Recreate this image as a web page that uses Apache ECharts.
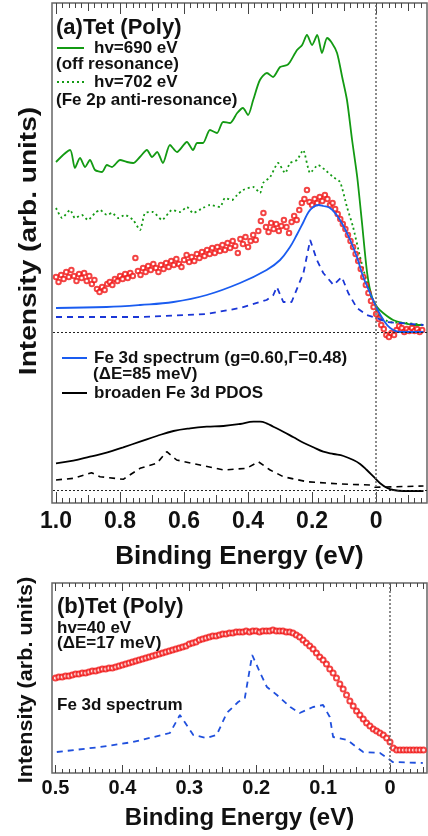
<!DOCTYPE html>
<html><head><meta charset="utf-8">
<script src="https://cdn.jsdelivr.net/npm/echarts@6/dist/echarts.min.js"></script>
<style>html,body{margin:0;padding:0;background:#fff}#c{width:428px;height:836px}</style>
</head><body><div id="c"></div>
<script>
// ---------- DATA (binding energy eV, intensity arb. units) ----------
// Panel (a)
const greenOff = [[1.0,341],[0.956,353],[0.941,335],[0.925,345],[0.909,336],[0.894,343],[0.878,333],[0.856,331],[0.841,338],[0.825,336],[0.8,343],[0.778,341],[0.759,340],[0.738,346],[0.716,353],[0.7,346],[0.684,351],[0.666,340],[0.644,358],[0.622,351],[0.591,361],[0.572,353],[0.559,360],[0.541,360],[0.519,373],[0.497,370],[0.478,381],[0.456,380],[0.434,390],[0.416,395],[0.4,388],[0.384,403],[0.363,423],[0.341,430],[0.322,426],[0.3,436],[0.278,438],[0.269,441],[0.247,453],[0.231,458],[0.216,468],[0.2,458],[0.184,468],[0.169,450],[0.153,465],[0.138,460],[0.122,450],[0.106,426],[0.091,403],[0.075,363],[0.059,326],[0.044,280],[0.028,230],[0.013,206],[-0.003,196],[-0.022,190],[-0.053,183],[-0.084,180],[-0.116,178],[-0.147,178]];
const greenAnti = [[1.0,295],[0.981,285],[0.956,293],[0.941,285],[0.919,288],[0.9,283],[0.878,290],[0.8625,293],[0.841,288],[0.825,290],[0.806,285],[0.784,288],[0.759,283],[0.7375,273],[0.722,290],[0.697,291],[0.669,283],[0.6375,293],[0.6125,291],[0.591,296],[0.572,290],[0.541,295],[0.519,298],[0.4875,296],[0.472,305],[0.45,303],[0.434,308],[0.416,313],[0.384,316],[0.3625,310],[0.353,320],[0.331,326],[0.306,340],[0.284,330],[0.269,340],[0.247,343],[0.228,353],[0.206,330],[0.181,338],[0.159,333],[0.134,326],[0.1125,321],[0.091,296],[0.072,276],[0.05,246],[0.028,220],[0.0125,203],[-0.0125,186],[-0.044,181],[-0.097,180],[-0.147,178]];
const fe3dSpec = [[1.0,195],[0.842,196],[0.7375,198],[0.633,201],[0.529,208],[0.425,220],[0.342,233],[0.3,243],[0.269,256],[0.248,268],[0.227,281],[0.211,291],[0.196,296],[0.18,298],[0.165,297],[0.144,295],[0.123,288],[0.102,277],[0.081,263],[0.06,246],[0.04,226],[0.019,210],[-0.002,195],[-0.023,183],[-0.044,175],[-0.075,171],[-0.148,171]];
const fe3dDashA = [[1.0,186],[0.7375,186],[0.529,189],[0.425,195],[0.342,203],[0.321,208],[0.31,216],[0.29,201],[0.264,201],[0.227,230],[0.206,263],[0.185,243],[0.165,230],[0.133,218],[0.107,226],[0.087,210],[0.06,195],[0.029,188],[-0.002,185],[-0.033,181],[-0.075,180],[-0.148,178]];
const redAStart = 1.0, redAStep = 0.008;
const redA = [226,221,228,224,231,226,233,227,222,229,
 225,230,222,227,219,223,214,211,216,213,
 219,221,218,224,222,227,224,229,225,230,
 227,245,232,228,235,231,237,233,239,235,
 231,238,234,240,236,242,238,244,239,236,
 243,248,241,246,242,249,245,251,247,253,
 249,255,250,256,252,258,253,260,255,262,
 257,250,264,259,266,256,262,268,263,272,
 282,290,276,271,280,274,279,272,277,283,
 276,270,281,287,283,293,300,304,313,301,
 298,304,300,306,302,308,304,298,300,294,
 289,284,279,274,268,262,256,249,242,234,
 226,218,210,202,196,189,184,178,174,168,
 166,170,168,173,177,175,171,174,172,175,
 172,174,171,173];
const pdosBroad = [[1.0,39.7],[0.946,42.3],[0.894,46.3],[0.842,50.3],[0.79,55.7],[0.7375,61.3],[0.685,67],[0.633,72],[0.581,74.7],[0.529,76.3],[0.477,77],[0.425,79],[0.383,81.3],[0.3625,81.3],[0.342,79.7],[0.321,76.3],[0.29,71.3],[0.258,65.7],[0.227,60.3],[0.196,55.7],[0.165,51.3],[0.133,49],[0.102,47],[0.071,43],[0.05,39],[0.029,33],[0.008,26.3],[-0.0125,19.7],[-0.033,15.3],[-0.054,13],[-0.085,12],[-0.148,12]];
const pdosRaw = [[1.0,23],[0.946,24.7],[0.889,30.3],[0.8625,26.3],[0.79,23.7],[0.7375,34.7],[0.685,39.7],[0.654,51.3],[0.623,43],[0.55,38],[0.477,33],[0.404,34.7],[0.368,41.3],[0.331,33],[0.29,26.3],[0.217,21.3],[0.1125,19],[0.019,18],[0.003,15.7],[-0.002,17],[-0.148,17]];
const baselineSpectra = 171, baselinePdos = 13;
// Panel (b)
const redBStart = 0.5, redBStep = 0.005;
const redB = [95,96,96,97,97,98,99,99,100,100,101,102,102,103,104,104,105,105,106,107,
 108,109,110,111,112,113,114,115,116,117,118,119,120,121,122,123,124,125,126,127,129,
 130,131,133,134,135,136,137,137,138,139,139,140,140,141,141,141,142,141,142,142,
 141,142,142,142,143,142,142,142,141,141,
 140,138,136,133,130,127,124,120,116,113,109,104,100,95,89,84,78,72,67,62,
 58,54,50,47,44,42,40,38,35,31,
 25,23,23,23,23,23,23,23,23,23];
const fe3dDashB = [[0.498,21],[0.433,26],[0.384,31],[0.329,40],[0.314,58],[0.294,38],[0.274,35],[0.259,38],[0.244,60],[0.227,71],[0.217,75],[0.206,118],[0.194,100],[0.184,86],[0.169,78],[0.149,66],[0.135,60],[0.115,66],[0.1,68],[0.09,56],[0.085,36],[0.064,33],[0.04,21],[0.015,20],[0.004,15],[-0.004,11],[-0.049,10]];
// Tick labels
const tickA = [0,0.2,0.4,0.6,0.8,1.0];
const tickAmid = [-0.1,0.1,0.3,0.5,0.7,0.9];
const tickB = [0,0.1,0.2,0.3,0.4,0.5];
const tickBmid = [-0.05,0.05,0.15,0.25,0.35,0.45];

// ---------- BUILD ----------
const minorA = []; for (let k=-7;k<=50;k++){ if(k%5!==0) minorA.push(Math.round(k*2)/100); }
const minorB = []; for (let k=-4;k<=49;k++){ if(k%5!==0) minorB.push(k/100); }
const redAPairs = redA.map((v,i)=>[+(redAStart - i*redAStep).toFixed(4), v]);
const redBPairs = redB.map((v,i)=>[+(redBStart - i*redBStep).toFixed(4), v]);

const FONT = '"Liberation Sans", Arial, sans-serif';
const AX = {A:{min:-0.159,max:1.0125}, B:{min:-0.0553,max:0.5052}};
const fmt = v => (Math.abs(v)<1e-9 ? '0' : v.toFixed(1));
function tAxis(grid, pos, r, vals, len, extra){
  const a = {type:'value', gridIndex:grid, position:pos, min:r.min, max:r.max, inverse:true,
    axisLine:{show:false,onZero:false}, splitLine:{show:false},
    axisTick:{show:true, inside:true, length:len, customValues:vals, lineStyle:{color:'#444',width:1}},
    axisLabel:{show:false}};
  return Object.assign(a, extra||{});
}
const xAxes = [
  tAxis(0,'bottom',AX.A,tickA,11,{
    axisLabel:{show:true, customValues:tickA, formatter:fmt, margin:7, fontSize:23, fontWeight:'bold', fontFamily:FONT, color:'#111'},
    name:'Binding Energy (eV)', nameLocation:'middle', nameGap:41,
    nameTextStyle:{fontSize:26, fontWeight:'bold', fontFamily:FONT, color:'#111'}}),
  tAxis(0,'top',AX.A,tickA,11),
  tAxis(0,'bottom',AX.A,tickAmid,8),
  tAxis(0,'top',AX.A,tickAmid,8),
  tAxis(0,'bottom',AX.A,minorA,5),
  tAxis(0,'top',AX.A,minorA,5),
  tAxis(1,'bottom',AX.B,tickB,8,{
    axisLabel:{show:true, customValues:tickB, formatter:fmt, margin:5, fontSize:20, fontWeight:'bold', fontFamily:FONT, color:'#111'},
    name:'Binding Energy (eV)', nameLocation:'middle', nameGap:33,
    nameTextStyle:{fontSize:24, fontWeight:'bold', fontFamily:FONT, color:'#111'}}),
  tAxis(1,'top',AX.B,tickB,8),
  tAxis(1,'bottom',AX.B,tickBmid,6),
  tAxis(1,'top',AX.B,tickBmid,6),
  tAxis(1,'bottom',AX.B,minorB,4),
  tAxis(1,'top',AX.B,minorB,4)
];
const yAxes = [
  {type:'value', gridIndex:0, min:0, max:500, show:false},
  {type:'value', gridIndex:1, min:0, max:190, show:false}
];
const GREEN='#139a13', BLUE='#1a5cf0', BLUED='#1a36d6', RED='#f01515';
const series = [
  {name:'hv=690 eV', type:'line', xAxisIndex:0, yAxisIndex:0, data:greenOff, symbol:'none', smooth:0.25,
   lineStyle:{color:GREEN, width:1.8}, itemStyle:{color:GREEN}, z:2},
  {name:'hv=702 eV', type:'line', xAxisIndex:0, yAxisIndex:0, data:greenAnti, symbol:'none', smooth:0.2,
   lineStyle:{color:GREEN, width:1.8, type:[2,3]}, itemStyle:{color:GREEN}, z:2},
  {name:'resPES', type:'scatter', xAxisIndex:0, yAxisIndex:0, data:redAPairs, symbol:'emptyCircle', symbolSize:4.5,
   itemStyle:{color:RED, borderColor:RED, borderWidth:1}, z:3},
  {name:'Fe 3d spectrum (g=0.60,Γ=0.48)', type:'line', xAxisIndex:0, yAxisIndex:0, data:fe3dSpec, symbol:'none', smooth:0.4,
   lineStyle:{color:BLUE, width:1.8}, itemStyle:{color:BLUE}, z:4},
  {name:'Fe 3d raw (a)', type:'line', xAxisIndex:0, yAxisIndex:0, data:fe3dDashA, symbol:'none',
   lineStyle:{color:BLUED, width:1.8, type:[6,5]}, itemStyle:{color:BLUED}, z:4,
   markLine:{silent:true, symbol:['none','none'], label:{show:false}, animation:false,
     data:[{xAxis:0, lineStyle:{color:'#666', width:1.5, type:[2,2]}},
           {yAxis:baselineSpectra, lineStyle:{color:'#222', width:1, type:[2,2]}},
           {yAxis:baselinePdos, lineStyle:{color:'#222', width:1, type:[2,2]}}]}},
  {name:'broaden Fe 3d PDOS', type:'line', xAxisIndex:0, yAxisIndex:0, data:pdosBroad, symbol:'none', smooth:0.4,
   lineStyle:{color:'#000', width:1.8}, itemStyle:{color:'#000'}, z:4},
  {name:'Fe 3d PDOS', type:'line', xAxisIndex:0, yAxisIndex:0, data:pdosRaw, symbol:'none',
   lineStyle:{color:'#000', width:1.6, type:[6,5]}, itemStyle:{color:'#000'}, z:4},
  {name:'hv=40 eV', type:'scatter', xAxisIndex:6, yAxisIndex:1, data:redBPairs, symbol:'emptyCircle', symbolSize:5,
   itemStyle:{color:RED, borderColor:RED, borderWidth:1.1}, z:3},
  {name:'Fe 3d spectrum (b)', type:'line', xAxisIndex:6, yAxisIndex:1, data:fe3dDashB, symbol:'none',
   lineStyle:{color:'#2050dd', width:1.8, type:[6,5]}, itemStyle:{color:'#2050dd'}, z:4,
   markLine:{silent:true, symbol:['none','none'], label:{show:false}, animation:false,
     data:[{xAxis:0, lineStyle:{color:'#666', width:1.5, type:[2,2]}}]}}
];
const T = (text, x, y, size, extra) => Object.assign({type:'text', x, y, silent:true,
  style:{text, font:'bold '+size+'px '+FONT, fill:'#111', align:'left', verticalAlign:'middle'}}, extra||{});
const V = (text, x, y, size, stretch) => ({type:'text', x, y, silent:true, rotation:Math.PI/2, scaleX:stretch, scaleY:1,
  style:{text, font:'bold '+size+'px '+FONT, fill:'#111', align:'center', verticalAlign:'middle'}});
const legendText = {fontSize:17, fontWeight:'bold', fontFamily:FONT, color:'#111', lineHeight:17};
const option = {
  animation:false,
  backgroundColor:'#fff',
  grid:[
    {left:52, top:3, width:375, height:500, show:true, borderColor:'#666', borderWidth:1.5},
    {left:52, top:583, width:375, height:190, show:true, borderColor:'#666', borderWidth:1.5}
  ],
  xAxis:xAxes, yAxis:yAxes,
  legend:[
    {data:['hv=690 eV','hv=702 eV'], orient:'vertical', left:56, top:39.5, itemWidth:27, itemHeight:10, itemGap:17,
     selectedMode:false, padding:0, itemStyle:{opacity:0}, textStyle:Object.assign({padding:[0,0,0,5]}, legendText)},
    {data:['Fe 3d spectrum (g=0.60,Γ=0.48)','broaden Fe 3d PDOS'], orient:'vertical', left:61, top:349.5, itemWidth:25, itemHeight:10, itemGap:18,
     selectedMode:false, padding:0, itemStyle:{opacity:0}, textStyle:Object.assign({padding:[0,0,0,2]}, legendText)}
  ],
  graphic:[
    T('(a)Tet (Poly)', 56, 28, 22),
    T('(off resonance)', 56, 64, 17),
    T('(Fe 2p anti-resonance)', 56, 100, 17),
    T('(ΔE=85 meV)', 93, 374, 17),
    T('(b)Tet (Poly)', 57, 607, 22),
    T('hv=40 eV', 57, 628, 17),
    T('(ΔE=17 meV)', 57, 643, 17),
    T('Fe 3d spectrum', 57, 705, 17),
    V('Intensity (arb. units)', 29, 241, 24, 1.17),
    V('Intensity (arb. units)', 26, 680, 20, 1.08)
  ],
  series
};
const chart = echarts.init(document.getElementById('c'), null, {renderer:'canvas'});
chart.setOption(option);
</script></body></html>
